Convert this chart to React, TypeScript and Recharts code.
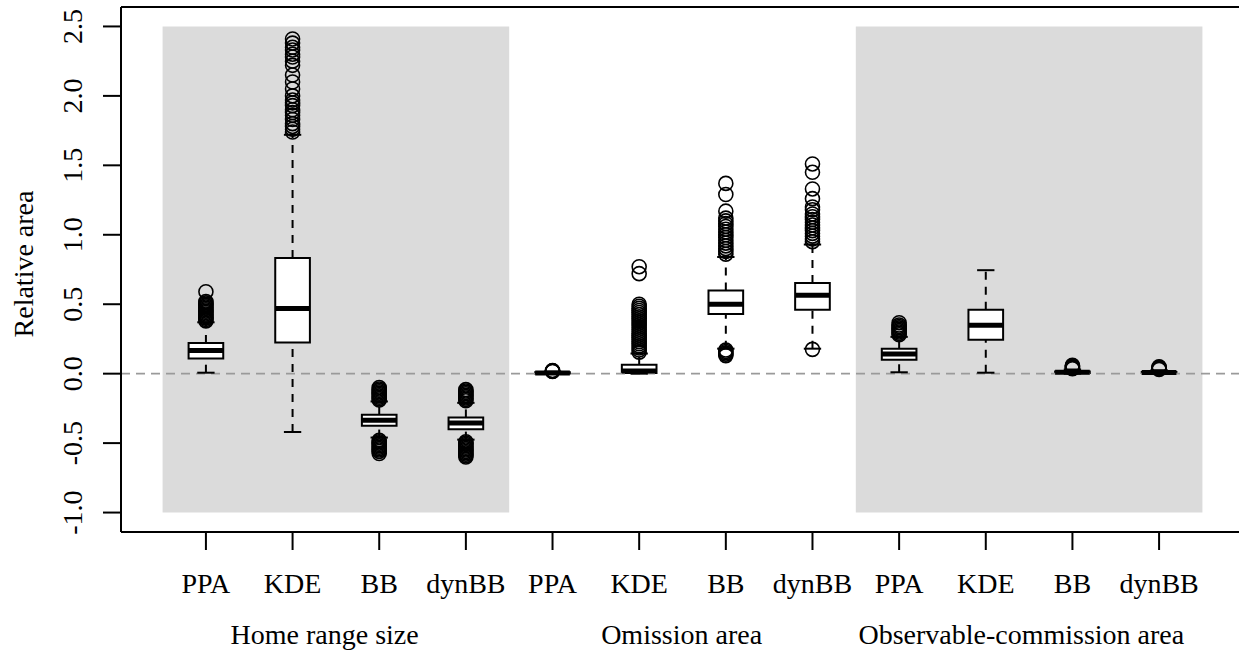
import React from 'react';
import { ComposedChart, XAxis, YAxis, ReferenceArea, ReferenceLine, Scatter } from 'recharts';

// box labels along the x axis, one per box (positions 1..12)
const categories = ['PPA', 'KDE', 'BB', 'dynBB', 'PPA', 'KDE', 'BB', 'dynBB', 'PPA', 'KDE', 'BB', 'dynBB'];
const groupLabels = ['Home range size', 'Omission area', 'Observable-commission area'];
const groupCenters = [2.37, 6.49, 10.41];
// shaded panels (x from, x to)
const shadeFrom = [0.5, 8.5];
const shadeTo = [4.5, 12.5];
const shadeLow = -1;
const shadeHigh = 2.5;

const yTicks = [-1, -0.5, 0, 0.5, 1, 1.5, 2, 2.5];
const yTickLabels = ['-1.0', '-0.5', '0.0', '0.5', '1.0', '1.5', '2.0', '2.5'];

// box statistics
const whiskerLow = [0.007, -0.42, -0.46, -0.475, 0.0, 0.0, 0.18, 0.18, 0.01, 0.007, 0.0, 0.0];
const q1 = [0.11, 0.225, -0.375, -0.4, 0.002, 0.005, 0.43, 0.46, 0.1, 0.245, 0.005, 0.004];
const medians = [0.166, 0.47, -0.336, -0.355, 0.005, 0.02, 0.5, 0.564, 0.142, 0.348, 0.01, 0.008];
const q3 = [0.22, 0.833, -0.295, -0.315, 0.01, 0.065, 0.598, 0.653, 0.18, 0.46, 0.015, 0.012];
const whiskerHigh = [0.37, 1.72, -0.2, -0.21, 0.015, 0.145, 0.84, 0.93, 0.265, 0.745, 0.03, 0.025];

const outliers = [
  [0.38, 0.39, 0.4, 0.41, 0.42, 0.43, 0.44, 0.45, 0.46, 0.47, 0.48, 0.49, 0.5, 0.51, 0.52, 0.59],
  [1.74, 1.76, 1.78, 1.8, 1.83, 1.86, 1.88, 1.9, 1.93, 1.95, 1.97, 2.0, 2.05, 2.1, 2.15, 2.22, 2.25, 2.28, 2.3, 2.33, 2.35, 2.38, 2.41],
  [-0.19, -0.18, -0.17, -0.16, -0.15, -0.14, -0.13, -0.12, -0.11, -0.1, -0.48, -0.49, -0.5, -0.51, -0.52, -0.53, -0.54, -0.55, -0.56, -0.575],
  [-0.195, -0.185, -0.175, -0.165, -0.155, -0.145, -0.135, -0.125, -0.115, -0.49, -0.5, -0.51, -0.52, -0.53, -0.54, -0.55, -0.56, -0.57, -0.58, -0.59, -0.6],
  [0.016, 0.018, 0.02, 0.022],
  [0.155, 0.17, 0.185, 0.2, 0.215, 0.23, 0.245, 0.26, 0.275, 0.29, 0.305, 0.32, 0.335, 0.35, 0.365, 0.38, 0.395, 0.41, 0.425, 0.44, 0.455, 0.47, 0.485, 0.5, 0.72, 0.77],
  [0.86, 0.88, 0.9, 0.92, 0.94, 0.96, 0.98, 1.0, 1.02, 1.04, 1.06, 1.08, 1.1, 1.12, 1.17, 1.29, 1.37, 0.17, 0.16, 0.15, 0.14, 0.13],
  [0.95, 0.97, 0.99, 1.01, 1.03, 1.05, 1.07, 1.09, 1.11, 1.13, 1.15, 1.18, 1.2, 1.26, 1.33, 1.45, 1.51, 0.175],
  [0.28, 0.29, 0.3, 0.31, 0.32, 0.33, 0.34, 0.35, 0.367],
  [],
  [0.035, 0.04, 0.045, 0.05, 0.055, 0.06],
  [0.03, 0.035, 0.04, 0.045, 0.05],
];

const X_MIN = 0.02;
const X_MAX = 12.98;
const Y_MIN = -1.14;
const Y_MAX = 2.64;

const FONT = '"Liberation Serif", "Times New Roman", serif';
const FONT_SIZE = 28;
const BOX_HALF = 0.2;
const STAPLE_HALF = 0.1;

const positions = categories.map((_, i) => i + 1);
const outlierPoints = outliers.flatMap((vals, i) => vals.map((v) => ({ x: i + 1, y: v })));

const XTick = (props: any) => {
  const { x, y, index } = props;
  return (
    <text x={x} y={y + 41} textAnchor="middle" fontFamily={FONT} fontSize={FONT_SIZE} fill="#000">
      {categories[index]}
    </text>
  );
};

const GroupTick = (props: any) => {
  const { x, y, index } = props;
  return (
    <text x={x} y={y + 37} textAnchor="middle" fontFamily={FONT} fontSize={FONT_SIZE} fill="#000">
      {groupLabels[index]}
    </text>
  );
};

const YTick = (props: any) => {
  const { x, y, index } = props;
  const tx = x - 19;
  return (
    <text x={tx} y={y} textAnchor="middle" fontFamily={FONT} fontSize={FONT_SIZE} fill="#000" transform={`rotate(-90, ${tx}, ${y})`}>
      {yTickLabels[index]}
    </text>
  );
};

const YLabel = () => (
  <text x={33} y={264} textAnchor="middle" fontFamily={FONT} fontSize={FONT_SIZE} fill="#000" transform="rotate(-90, 33, 264)">
    Relative area
  </text>
);

const Outlier = (props: any) => (
  <circle cx={props.cx} cy={props.cy} r={7} fill="none" stroke="#000" strokeWidth={1.6} />
);

export default function App() {
  return (
    <div style={{ position: 'absolute', left: 0, top: 0, width: 1239, height: 652, overflow: 'hidden', background: '#fff' }}>
      <ComposedChart width={1262} height={652} margin={{ top: 7, right: 18, bottom: 0, left: 0 }}>
        <XAxis
          dataKey="x"
          type="number"
          domain={[X_MIN, X_MAX]}
          ticks={positions}
          interval={0}
          allowDataOverflow
          height={75}
          tickSize={18}
          tickMargin={2}
          tick={<XTick />}
          axisLine={{ stroke: '#000', strokeWidth: 2 }}
          tickLine={{ stroke: '#000', strokeWidth: 2 }}
        />
        <XAxis
          xAxisId="grp"
          dataKey="x"
          type="number"
          domain={[X_MIN, X_MAX]}
          ticks={groupCenters}
          interval={0}
          allowDataOverflow
          height={45}
          tickSize={0}
          tickMargin={0}
          tick={<GroupTick />}
          axisLine={false}
          tickLine={false}
        />
        <YAxis
          dataKey="y"
          type="number"
          domain={[Y_MIN, Y_MAX]}
          ticks={yTicks}
          interval={0}
          allowDataOverflow
          width={121}
          tickSize={18}
          tickMargin={2}
          tick={<YTick />}
          axisLine={{ stroke: '#000', strokeWidth: 2 }}
          tickLine={{ stroke: '#000', strokeWidth: 2 }}
          label={<YLabel />}
        />

        {shadeFrom.map((x1, k) => (
          <ReferenceArea key={`shade-${k}`} x1={x1} x2={shadeTo[k]} y1={shadeLow} y2={shadeHigh} fill="#dbdbdb" fillOpacity={1} stroke="none" />
        ))}

        <ReferenceLine y={0} stroke="#9a9a9a" strokeWidth={1.6} strokeDasharray="9 6" />
        <ReferenceLine y={Y_MAX} stroke="#000" strokeWidth={2} />

        {positions.map((p, i) => (
          <ReferenceArea
            key={`box-${i}`}
            x1={p - BOX_HALF}
            x2={p + BOX_HALF}
            y1={q1[i]}
            y2={q3[i]}
            fill="#fff"
            fillOpacity={1}
            stroke="#000"
            strokeWidth={2}
          />
        ))}

        {positions.map((p, i) => (
          <React.Fragment key={`wh-${i}`}>
            <ReferenceLine segment={[{ x: p, y: q3[i] }, { x: p, y: whiskerHigh[i] }]} stroke="#000" strokeWidth={2} strokeDasharray="8 7" />
            <ReferenceLine segment={[{ x: p, y: whiskerLow[i] }, { x: p, y: q1[i] }]} stroke="#000" strokeWidth={2} strokeDasharray="8 7" />
            <ReferenceLine segment={[{ x: p - STAPLE_HALF, y: whiskerHigh[i] }, { x: p + STAPLE_HALF, y: whiskerHigh[i] }]} stroke="#000" strokeWidth={2} />
            <ReferenceLine segment={[{ x: p - STAPLE_HALF, y: whiskerLow[i] }, { x: p + STAPLE_HALF, y: whiskerLow[i] }]} stroke="#000" strokeWidth={2} />
            <ReferenceLine segment={[{ x: p - BOX_HALF, y: medians[i] }, { x: p + BOX_HALF, y: medians[i] }]} stroke="#000" strokeWidth={5} />
          </React.Fragment>
        ))}

        <Scatter data={outlierPoints} dataKey="y" shape={<Outlier />} isAnimationActive={false} />
      </ComposedChart>
    </div>
  );
}
